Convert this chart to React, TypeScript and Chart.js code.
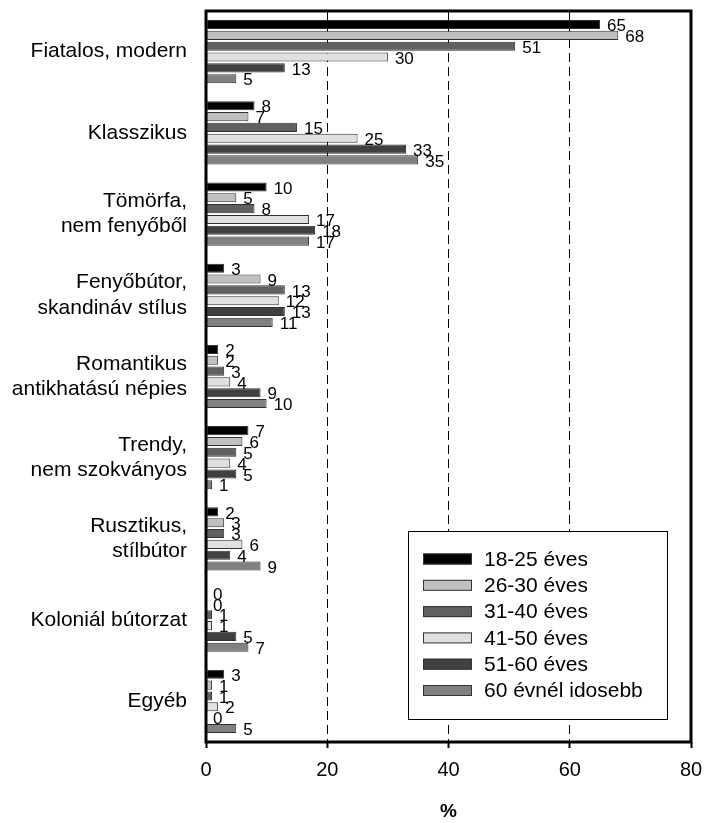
import React, { useEffect, useRef } from "react";
import { Chart, registerables } from "chart.js";

Chart.register(...registerables);

const categories: (string | string[])[] = [
  "Fiatalos, modern",
  "Klasszikus",
  ["Tömörfa,", "nem fenyőből"],
  ["Fenyőbútor,", "skandináv stílus"],
  ["Romantikus", "antikhatású népies"],
  ["Trendy,", "nem szokványos"],
  ["Rusztikus,", "stílbútor"],
  "Koloniál bútorzat",
  "Egyéb",
];

const seriesNames = [
  "18-25 éves",
  "26-30 éves",
  "31-40 éves",
  "41-50 éves",
  "51-60 éves",
  "60 évnél idosebb",
];

const age18to25 = [65, 8, 10, 3, 2, 7, 2, 0, 3];
const age26to30 = [68, 7, 5, 9, 2, 6, 3, 0, 1];
const age31to40 = [51, 15, 8, 13, 3, 5, 3, 1, 1];
const age41to50 = [30, 25, 17, 12, 4, 4, 6, 1, 2];
const age51to60 = [13, 33, 18, 13, 9, 5, 4, 5, 0];
const age60plus = [5, 35, 17, 11, 10, 1, 9, 7, 5];

const xTicks = [0, 20, 40, 60, 80];

const seriesColors = ["#000000", "#c0c0c0", "#606060", "#e0e0e0", "#404040", "#808080"];
const FONT = "'Liberation Sans', Arial, sans-serif";

export default function App() {
  const ref = useRef<HTMLCanvasElement | null>(null);

  useEffect(() => {
    document.body.style.margin = "0";
    const canvas = ref.current;
    if (!canvas) return;
    const seriesData = [age18to25, age26to30, age31to40, age41to50, age51to60, age60plus];

    const labelsPlugin = {
      id: "valueLabels",
      afterDatasetsDraw(chart: any) {
        const ctx = chart.ctx;
        ctx.save();
        ctx.font = `17px ${FONT}`;
        ctx.fillStyle = "#000";
        ctx.textAlign = "left";
        ctx.textBaseline = "middle";
        chart.data.datasets.forEach((ds: any, di: number) => {
          const meta = chart.getDatasetMeta(di);
          meta.data.forEach((el: any, i: number) => {
            ctx.fillText(String(ds.data[i]), el.x + 7, el.y + 2);
          });
        });
        ctx.restore();
      },
    };

    const framePlugin = {
      id: "frameAndLegend",
      afterDraw(chart: any) {
        const ctx = chart.ctx;
        const ca = chart.chartArea;
        ctx.save();
        ctx.strokeStyle = "#000";
        ctx.lineWidth = 3;
        ctx.strokeRect(ca.left, ca.top, ca.right - ca.left, ca.bottom - ca.top);

        // legend
        const bw = 259;
        const bh = 188;
        const bx = ca.right - 24 - bw;
        const by = ca.bottom - 23 - bh;
        ctx.fillStyle = "#fff";
        ctx.fillRect(bx, by, bw, bh);
        ctx.lineWidth = 1;
        ctx.strokeStyle = "#000";
        ctx.strokeRect(bx + 0.5, by + 0.5, bw, bh);
        ctx.font = `21px ${FONT}`;
        ctx.textBaseline = "middle";
        ctx.textAlign = "left";
        chart.data.datasets.forEach((ds: any, i: number) => {
          const cy = by + 28 + i * 26.3;
          ctx.fillStyle = ds.backgroundColor;
          ctx.fillRect(bx + 15, cy - 5.5, 49, 11);
          ctx.strokeStyle = "#333";
          ctx.lineWidth = 1;
          ctx.strokeRect(bx + 15.5, cy - 5, 48, 10);
          ctx.fillStyle = "#000";
          ctx.fillText(ds.label, bx + 76, cy + 1);
        });
        ctx.restore();
      },
    };

    const chart = new Chart(canvas, {
      type: "bar",
      data: {
        labels: categories,
        datasets: seriesNames.map((name, i) => ({
          label: name,
          data: seriesData[i],
          backgroundColor: seriesColors[i],
          borderColor: "#303030",
          borderWidth: 1,
          borderSkipped: false,
          categoryPercentage: 0.8,
          barPercentage: 0.84,
        })),
      },
      options: {
        indexAxis: "y",
        animation: false,
        responsive: false,
        maintainAspectRatio: false,
        devicePixelRatio: 1,
        layout: { padding: { top: 11, right: 16, left: 0, bottom: 0 } },
        plugins: {
          legend: { display: false },
          tooltip: { enabled: false },
        },
        scales: {
          x: {
            type: "linear",
            min: 0,
            max: 80,
            afterBuildTicks: (scale: any) => {
              scale.ticks = xTicks.map((v) => ({ value: v }));
            },
            afterFit: (scale: any) => {
              scale.height = 81;
              scale.paddingLeft = 0;
              scale.paddingRight = 0;
            },
            ticks: {
              font: { family: FONT, size: 20 },
              color: "#000",
              padding: 10,
            },
            grid: {
              display: true,
              color: (c: any) =>
                c.tick && (c.tick.value === 0 || c.tick.value === 80) ? "rgba(0,0,0,0)" : "#000",
              lineWidth: 1,
              drawTicks: true,
              tickLength: 6,
              tickColor: "#000",
              tickWidth: 2,
            },
            border: { display: false, dash: [9, 5] },
            title: {
              display: true,
              text: "%",
              font: { family: FONT, size: 19, weight: "bold" },
              color: "#000",
              padding: { top: 0, bottom: 0 },
            },
          },
          y: {
            afterFit: (scale: any) => {
              scale.width = 206;
              scale.paddingTop = 0;
              scale.paddingBottom = 0;
            },
            ticks: {
              font: { family: FONT, size: 21 },
              color: "#000",
              padding: 19,
            },
            grid: { display: false, drawTicks: false },
            border: { display: false },
          },
        },
      },
      plugins: [labelsPlugin, framePlugin],
    } as any);
    return () => chart.destroy();
  }, []);

  return (
    <div style={{ position: "absolute", left: 0, top: 0, width: 707, height: 823, background: "#fff" }}>
      <canvas ref={ref} width={707} height={823} style={{ width: 707, height: 823, display: "block" }} />
    </div>
  );
}
